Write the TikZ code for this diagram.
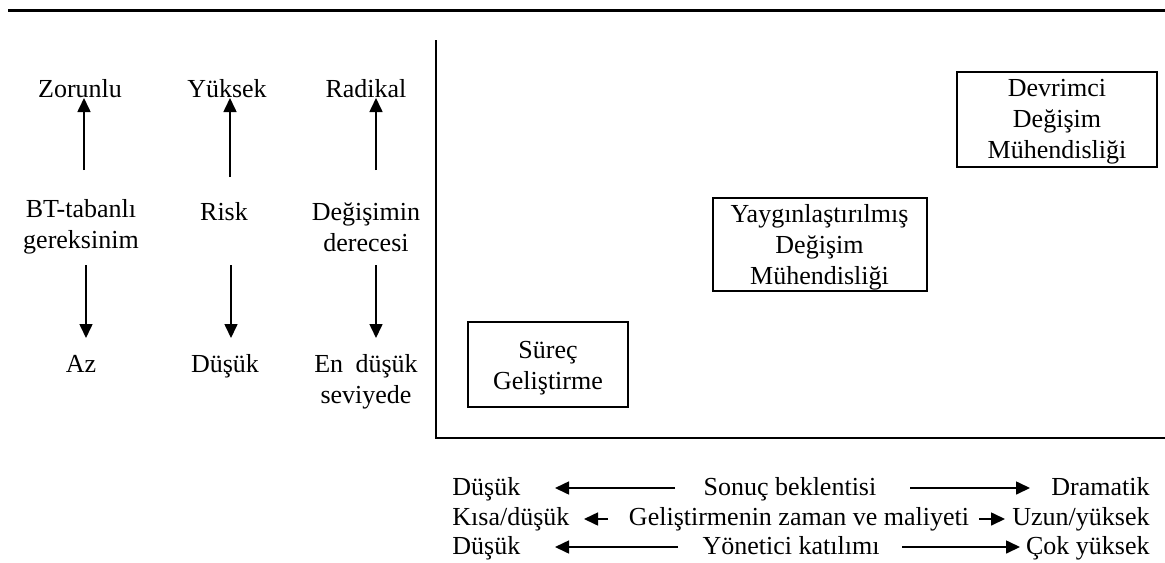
\documentclass[tikz,border=0pt]{standalone}
\usepackage{fontspec}
\setmainfont{Liberation Serif}
\usetikzlibrary{arrows.meta}
\begin{document}
\begin{tikzpicture}[x=0.5pt,y=-0.5pt,
  every node/.style={font=\fontsize{13}{15.5}\selectfont, inner sep=0pt},
  lbl/.style={align=center},
  word/.style={anchor=base},
  stagebox/.style={draw, line width=1pt},
  rule/.style={line width=1pt},
  arr/.style={line width=0.8pt, -{Triangle[length=7pt,width=6.5pt]}},
]
\useasboundingbox (0,0) rectangle (1165,562);

% top rule and axes
\draw[line width=1.5pt] (8,10) -- (1165,10);
\coordinate (ytop) at (436,40);
\coordinate (orig) at (436,438);
\coordinate (xend) at (1165,438);
\draw[rule] (ytop) -- (orig) -- (xend);

% left-hand dimension columns
\node[word] (z)  at (80,97)  {Zorunlu};
\node[word] (yk) at (227,97) {Yüksek};
\node[word] (rd) at (366,97) {Radikal};

\node[lbl] (bt) at (81,227)  {BT-tabanlı\\gereksinim};
\node[word] (rk) at (224,220) {Risk};
\node[lbl] (dd) at (366,227) {Değişimin\\derecesi};

\node[word] (az) at (81,372)  {Az};
\node[word] (dk) at (225,372) {Düşük};
\node[lbl] (ed) at (366,382) {En\hspace{3pt} düşük\\seviyede};

% up and down arrows of the columns
\coordinate (u1a) at (84,170);  \coordinate (u1b) at (84,98);
\coordinate (u2a) at (230,177); \coordinate (u2b) at (230,98);
\coordinate (u3a) at (376,170); \coordinate (u3b) at (376,98);
\draw[arr] (u1a) -- (u1b);
\draw[arr] (u2a) -- (u2b);
\draw[arr] (u3a) -- (u3b);

\coordinate (d1a) at (86,265);  \coordinate (d1b) at (86,338);
\coordinate (d2a) at (231,265); \coordinate (d2b) at (231,338);
\coordinate (d3a) at (376,265); \coordinate (d3b) at (376,338);
\draw[arr] (d1a) -- (d1b);
\draw[arr] (d2a) -- (d2b);
\draw[arr] (d3a) -- (d3b);

% the three stages: frames, then their texts
\node[stagebox, minimum width=80pt, minimum height=42.5pt] (s1) at (548,364.5) {};
\node[lbl] (s1t) at ([yshift=-1.8pt]s1.center) {Süreç\\Geliştirme};
\node[stagebox, minimum width=107pt, minimum height=46.5pt] (s2) at (819.5,244.5) {};
\node[lbl] (s2t) at ([yshift=-1.2pt]s2.center) {Yaygınlaştırılmış\\Değişim\\Mühendisliği};
\node[stagebox, minimum width=100pt, minimum height=47.5pt] (s3) at (1057,119.5) {};
\node[lbl] (s3t) at ([yshift=-1.2pt]s3.center) {Devrimci\\Değişim\\Mühendisliği};

% legend of the horizontal axis
\node[anchor=base west] (l1) at (452,495) {Düşük};
\node[word] (m1) at (790,495) {Sonuç beklentisi};
\node[anchor=base east] (r1) at (1150,495) {Dramatik};
\coordinate (a1s) at (675,488); \coordinate (a1e) at (555,488);
\coordinate (b1s) at (910,488); \coordinate (b1e) at (1030,488);
\draw[arr] (a1s) -- (a1e);
\draw[arr] (b1s) -- (b1e);

\node[anchor=base west] (l2) at (452,525) {Kısa/düşük};
\node[word] (m2) at (799,525) {Geliştirmenin zaman ve maliyeti};
\node[anchor=base east] (r2) at (1150,525) {Uzun/yüksek};
\coordinate (a2s) at (608,519); \coordinate (a2e) at (584,519);
\coordinate (b2s) at (979,519); \coordinate (b2e) at (1005,519);
\draw[arr] (a2s) -- (a2e);
\draw[arr] (b2s) -- (b2e);

\node[anchor=base west] (l3) at (452,554) {Düşük};
\node[word] (m3) at (791,554) {Yönetici katılımı};
\node[anchor=base east] (r3) at (1150,554) {Çok yüksek};
\coordinate (a3s) at (678,547); \coordinate (a3e) at (555,547);
\coordinate (b3s) at (902,547); \coordinate (b3e) at (1020,547);
\draw[arr] (a3s) -- (a3e);
\draw[arr] (b3s) -- (b3e);
\end{tikzpicture}
\end{document}
